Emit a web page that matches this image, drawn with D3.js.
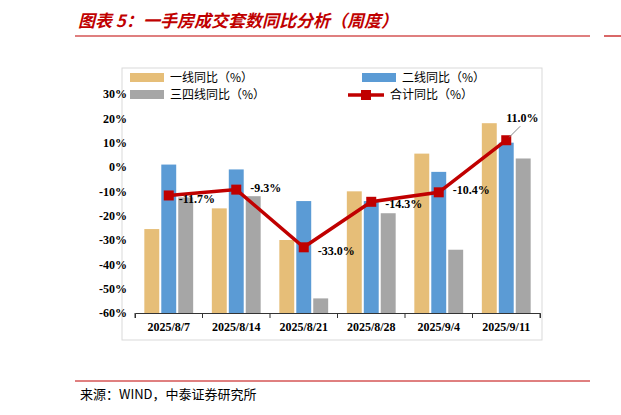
<!DOCTYPE html><html><head><meta charset="utf-8"><script src="https://cdn.jsdelivr.net/npm/d3@7"></script>
<style>body{margin:0;background:#fff}</style></head><body><svg id="c" width="621" height="415"></svg>
<script>
const categories=["2025/8/7","2025/8/14","2025/8/21","2025/8/28","2025/9/4","2025/9/11"];
const tier1=[-25.5,-17,-30,-10,5.5,18];
const tier2=[1,-1,-14,-14,-2,10];
const tier34=[-12.5,-12,-54,-19,-34,3.5];
const total=[-11.7,-9.3,-33.0,-14.3,-10.4,11.0];
const yTicks=[30,20,10,0,-10,-20,-30,-40,-50,-60];
const svg=d3.select("#c");
const red="#C00000";
svg.append("text").attr("x",78).attr("y",27).attr("fill",red).attr("font-size",17).attr("font-weight","bold").attr("font-style","italic").attr("font-family","Noto Sans CJK SC").text("图表 5：一手房成交套数同比分析（周度）");
svg.append("line").attr("x1",75).attr("x2",590).attr("y1",36).attr("y2",36).attr("stroke",red).attr("stroke-width",1.2);
svg.append("line").attr("x1",604).attr("x2",621).attr("y1",36).attr("y2",36).attr("stroke",red).attr("stroke-width",1.2);
svg.append("rect").attr("x",122).attr("y",68).attr("width",420).attr("height",272).attr("fill","none").attr("stroke","#d9d9d9");
const y=d3.scaleLinear().domain([-60,30]).range([313,94]);
const x=d3.scaleBand().domain(categories).range([135,540]).paddingInner(0);
const sub=d3.scaleBand().domain([0,1,2]).range([0,x.bandwidth()]).paddingInner(0.12).paddingOuter(0.55);
const ax=svg.append("g").attr("transform","translate(135,0)").call(d3.axisLeft(y).tickValues(yTicks).tickFormat(d=>d+"%").tickSize(0).tickPadding(8));
ax.select(".domain").remove();
ax.selectAll("text").attr("font-family","Liberation Serif").attr("font-weight","bold").attr("font-size",12).attr("fill","#000");
const cols=["#E6BE78","#5B9BD5","#A6A6A6"];
[tier1,tier2,tier34].forEach((s,k)=>{
 svg.append("g").selectAll("rect").data(s).join("rect").attr("x",(d,i)=>x(categories[i])+sub(k)).attr("width",sub.bandwidth())
 .attr("y",d=>y(d)).attr("height",d=>y(-60)-y(d)).attr("fill",cols[k]);
});
const bx=svg.append("g").attr("transform","translate(0,313)").call(d3.axisBottom(x).tickSize(5).tickPadding(4));
bx.selectAll(".tick line").attr("transform",`translate(${x.bandwidth()/2},0)`).attr("stroke","#333");
bx.select(".domain").attr("stroke","#333");
bx.selectAll("text").attr("font-family","Liberation Serif").attr("font-weight","bold").attr("font-size",12).attr("fill","#000");
svg.append("line").attr("x1",135).attr("x2",135).attr("y1",313).attr("y2",318).attr("stroke","#333");
const cx=(i)=>x(categories[i])+x.bandwidth()/2;
svg.append("path").datum(total).attr("d",d3.line().x((d,i)=>cx(i)).y(d=>y(d))).attr("fill","none").attr("stroke",red).attr("stroke-width",3.5);
svg.append("g").selectAll("rect").data(total).join("rect").attr("x",(d,i)=>cx(i)-5).attr("y",d=>y(d)-5).attr("width",10).attr("height",10).attr("fill",red);
const off=[[10,4],[14,-2],[14,4],[14,2],[14,-2],[0,-22]];
svg.append("line").attr("x1",cx(5)+14).attr("y1",y(11)-14).attr("x2",cx(5)+3).attr("y2",y(11)-3).attr("stroke","#888");
svg.append("g").selectAll("text").data(total).join("text").attr("x",(d,i)=>cx(i)+off[i][0]).attr("y",(d,i)=>y(d)+off[i][1]+4)
 .attr("font-family","Liberation Serif").attr("font-weight","bold").attr("font-size",12).text(d=>d.toFixed(1)+"%");
const lg=[["一线同比（%）",130,78,0],["二线同比（%）",362,78,1],["三四线同比（%）",130,95,2]];
lg.forEach(([t,lx,ly,k])=>{svg.append("rect").attr("x",lx).attr("y",ly-5).attr("width",34).attr("height",9).attr("fill",cols[k]);
 svg.append("text").attr("x",lx+40).attr("y",ly+4).attr("font-size",12).attr("font-family","Noto Sans CJK SC").text(t);});
svg.append("line").attr("x1",348).attr("x2",384).attr("y1",95).attr("y2",95).attr("stroke",red).attr("stroke-width",3.5);
svg.append("rect").attr("x",361).attr("y",90).attr("width",10).attr("height",10).attr("fill",red);
svg.append("text").attr("x",390).attr("y",99).attr("font-size",12).attr("font-family","Noto Sans CJK SC").text("合计同比（%）");
svg.append("line").attr("x1",75).attr("x2",590).attr("y1",381).attr("y2",381).attr("stroke",red).attr("stroke-width",1);
svg.append("text").attr("x",80).attr("y",399).attr("font-size",13).attr("font-family","Noto Sans CJK SC").text("来源：WIND，中泰证券研究所");
</script></body></html>
